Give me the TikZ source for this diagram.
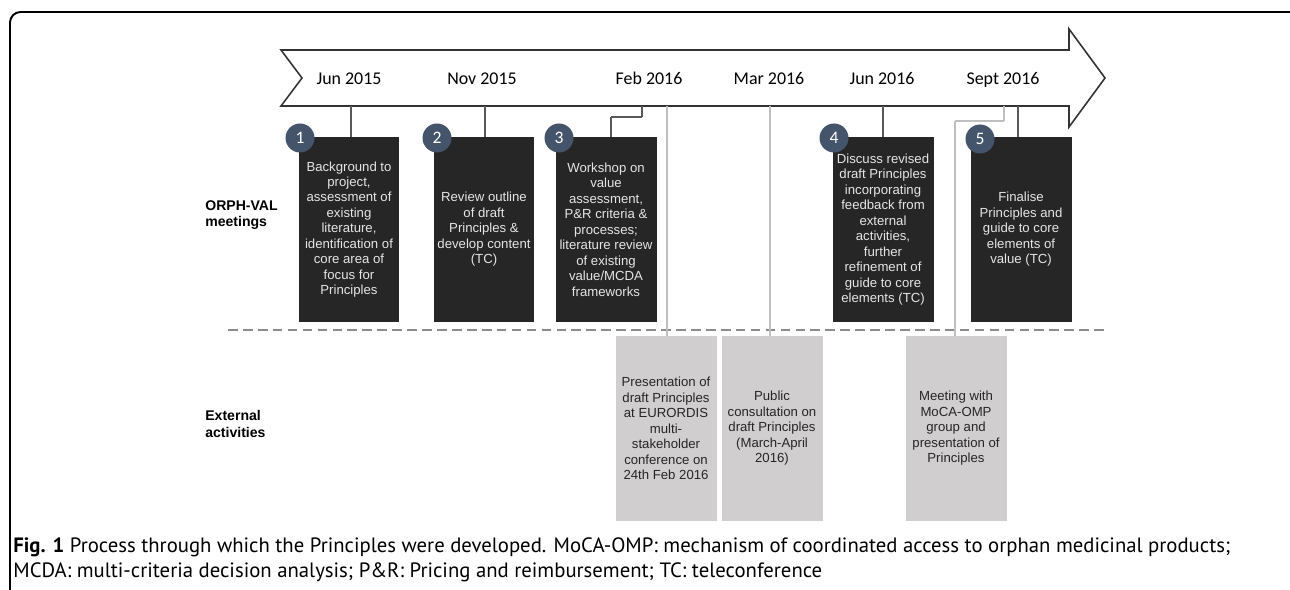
\documentclass[tikz,border=0pt]{standalone}
\usepackage{fontspec}
\setmainfont{Liberation Sans}
\newfontfamily\datefont{Carlito}
\newfontfamily\capfont{PT Sans}
\usetikzlibrary{positioning}

\definecolor{boxdark}{HTML}{262626}
\definecolor{boxlight}{HTML}{D0CECE}
\definecolor{numblue}{HTML}{44546A}
\definecolor{linedark}{HTML}{595959}
\definecolor{linelight}{HTML}{BFBFBF}
\definecolor{dashgray}{HTML}{8C8C8C}

\begin{document}
\begin{tikzpicture}[x=0.02cm, y=-0.02cm,
  meetbox/.style={fill=boxdark, text=white!90!black, minimum width=2.02cm, minimum height=3.7cm, inner sep=0pt, align=center, font=\fontsize{7.5}{8.8}\selectfont},
  extbox/.style={fill=boxlight, text=boxdark, minimum width=2.02cm, minimum height=3.7cm, inner sep=0pt, align=center, font=\fontsize{7.5}{8.8}\selectfont},
  stepnum/.style={circle, fill=numblue, text=white, minimum size=0.58cm, inner sep=0pt, font=\datefont\fontsize{10}{12}\selectfont},
  datelabel/.style={anchor=base, inner sep=0pt, font=\datefont\fontsize{10.2}{12}\selectfont},
  rowlabel/.style={anchor=west, align=left, inner sep=0pt, font=\bfseries\fontsize{8}{9.4}\selectfont},
  meetline/.style={draw=linedark, line width=1.5pt},
  extline/.style={draw=linelight, line width=1.5pt},
]
\useasboundingbox (0,0) rectangle (1290,590);
\clip (0,0) rectangle (1290,590);

% frame
\draw[line width=1.1pt, rounded corners=6pt] (10,12) rectangle (1300,640);

% timeline arrow
\draw[black!80, line width=0.9pt, fill=white] (281,50) -- (1069,50) -- (1069,29) -- (1105,78) -- (1069,127) -- (1069,106) -- (281,106) -- (302,78) -- cycle;

\node[datelabel] (jun15) at (349,85) {Jun 2015};
\node[datelabel] (nov15) at (482,85) {Nov 2015};
\node[datelabel] (feb16) at (649,85) {Feb 2016};
\node[datelabel] (mar16) at (769,85) {Mar 2016};
\node[datelabel] (jun16) at (882,85) {Jun 2016};
\node[datelabel] (sep16) at (1003,85) {Sept 2016};

% ticks on the lower edge of the arrow
\coordinate (t1) at (351,106);
\coordinate (t2) at (485,106);
\coordinate (t3) at (642,106);
\coordinate (t4) at (883,106);
\coordinate (t5) at (1018,106);
\coordinate (f1) at (667,106);
\coordinate (f2) at (770,106);
\coordinate (f3) at (1004,106);
\coordinate (k3) at (611,117);
\coordinate (k6) at (955,121);

% row labels
\node[rowlabel] (orph) at (205,215) {ORPH-VAL\\meetings};
\node[rowlabel] (ext) at (205,424) {External\\activities};

% separator
\draw[dashgray, line width=0.7pt, dash pattern=on 5.5pt off 3pt] (228,330) -- (1105,330);

% links to external activities
\path[extline]
(f1) edge (f1 |- 0,336)
(f2) edge (f2 |- 0,336)
(f3) edge (f3 |- k6)
(k6 -| f3) edge (k6)
(k6) edge (k6 |- 0,336);

\node[extbox] (e1) at (666,428.5) {Presentation of\\draft Principles\\at EURORDIS\\multi-\\stakeholder\\conference on\\24th Feb 2016};
\node[extbox] (e2) at (772,428.5) {Public\\consultation on\\draft Principles\\(March-April\\2016)};
\node[extbox] (e3) at (956,428.5) {Meeting with\\MoCA-OMP\\group and\\presentation of\\Principles};

% meetings
\path[meetline]
(t1) edge (t1 |- 0,137)
(t2) edge (t2 |- 0,143)
(t3) edge (t3 |- k3)
(k3 -| t3) edge (k3)
(k3) edge (k3 |- 0,137)
(t4) edge (t4 |- 0,137)
(t5) edge (t5 |- 0,137);

\node[meetbox] (m1) at (349,229.5) {Background to\\project,\\assessment of\\existing\\literature,\\identification of\\core area of\\focus for\\Principles};
\node[meetbox] (m2) at (484,229.5) {Review outline\\of draft\\Principles \&\\develop content\\(TC)};
\node[meetbox] (m3) at (606,229.5) {Workshop on\\value\\assessment,\\P\&R criteria \&\\processes;\\literature review\\of existing\\value/MCDA\\frameworks};
\node[meetbox] (m4) at (883,229.5) {Discuss revised\\draft Principles\\incorporating\\feedback from\\external\\activities,\\further\\refinement of\\guide to core\\elements (TC)};
\node[meetbox] (m5) at (1021,229.5) {Finalise\\Principles and\\guide to core\\elements of\\value (TC)};

\node[stepnum] (n1) at (300,138) {1};
\node[stepnum] (n2) at (437,138) {2};
\node[stepnum] (n3) at (559,138) {3};
\node[stepnum] (n4) at (834,138) {4};
\node[stepnum] (n5) at (980,139) {5};

% caption
\node[anchor=west, align=left, inner sep=0pt, font=\capfont\fontsize{11.8}{14.2}\selectfont] (cap) at (13,559.5) {\textbf{Fig. 1} Process through which the Principles were developed. MoCA-OMP: mechanism of coordinated access to orphan medicinal products;\\MCDA: multi-criteria decision analysis; P\&R: Pricing and reimbursement; TC: teleconference};
\end{tikzpicture}
\end{document}
